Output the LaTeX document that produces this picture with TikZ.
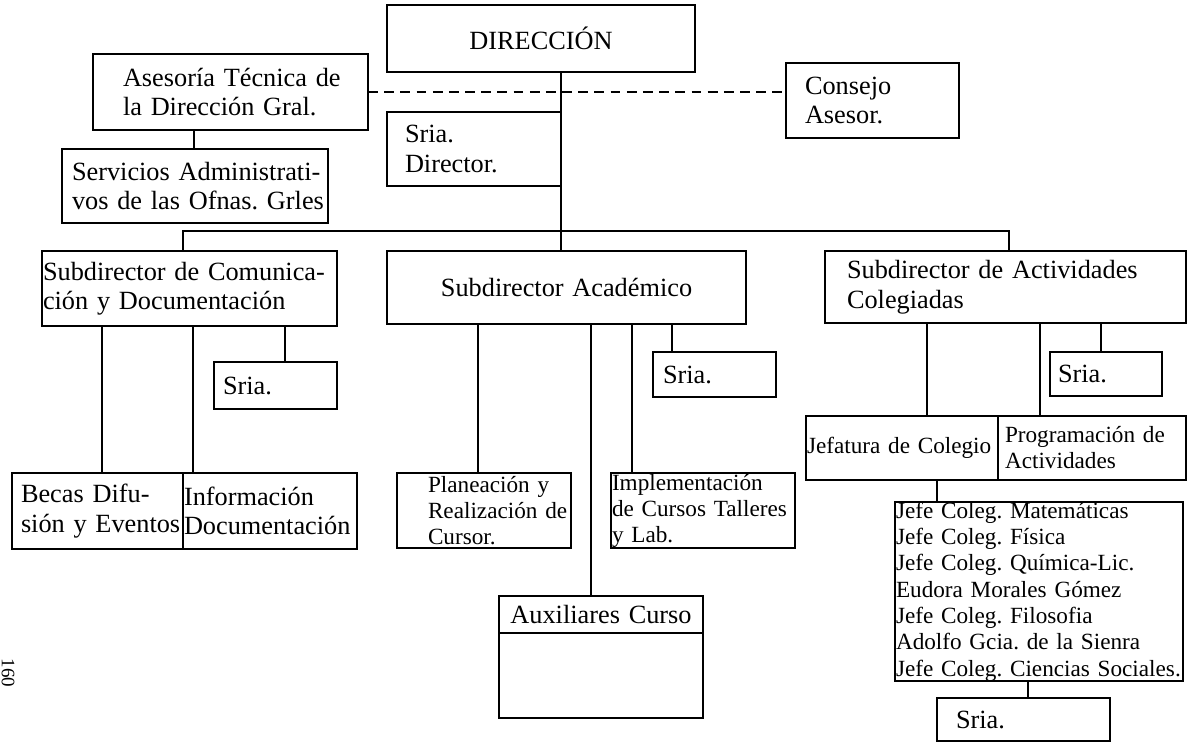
\documentclass[tikz,border=0pt]{standalone}
\usepackage{fontspec}
\setmainfont{Liberation Serif}
\usetikzlibrary{calc}
\hyphenpenalty=10000
\exhyphenpenalty=10000
\newcommand{\mainsz}{\fontsize{18.7}{21}\selectfont}
\newcommand{\smallsz}{\fontsize{16.5}{18.5}\selectfont}
\newcommand{\listsz}{\fontsize{16.5}{18.7}\selectfont}
\tikzset{
  orgbox/.style={draw, line width=1.2pt, outer sep=0pt, inner ysep=0pt,
    anchor=north west, align=left, font=\mainsz},
  link/.style={line width=1.2pt},
  advlink/.style={line width=1pt, dash pattern=on 7pt off 4.5pt},
}
\begin{document}
\begin{tikzpicture}[x=0.025cm, y=-0.025cm]
\useasboundingbox (0,0) rectangle (1193,746);

% Dirección y asesores
\node[orgbox, align=center, inner xsep=0pt, text width=7.7cm, minimum height=1.675cm] (dir) at (387,5) {DIRECCIÓN};
\node[orgbox, inner xsep=0.75cm, text width=5.375cm, minimum height=1.9cm] (ase) at (93,54) {Asesoría~Técnica~de\\la~Dirección~Gral.};
\node[orgbox, inner xsep=0.45cm, text width=3.45cm, minimum height=1.85cm] (sdir) at (387,112) {Sria.\\Director.};
\node[orgbox, inner xsep=0.475cm, text width=3.375cm, minimum height=1.875cm] (con) at (786,63) {Consejo\\Asesor.};
\node[orgbox, inner xsep=0.25cm, text width=6.15cm, minimum height=1.85cm] (ser) at (62,149) {Servicios~Administrati-\\vos~de~las~Ofnas.~Grles};

% Subdirecciones
\node[orgbox, inner xsep=0.025cm, text width=7.325cm, minimum height=1.875cm] (scd) at (42,251) {Subdirector~de~Comunica-\\ción~y~Documentación};
\node[orgbox, align=center, inner xsep=0pt, text width=8.975cm, minimum height=1.825cm] (sca) at (387,251) {Subdirector Académico};
\node[orgbox, inner xsep=0.55cm, text width=7.925cm, minimum height=1.8cm] (sac) at (825,251) {Subdirector~de~Actividades\\Colegiadas};

% Secretarias
\node[orgbox, inner xsep=0.225cm, text width=2.625cm, minimum height=1.175cm] (sria1) at (214,362) {Sria.};
\node[orgbox, inner xsep=0.25cm, text width=2.575cm, minimum height=1.125cm] (sria2) at (653,352) {Sria.};
\node[orgbox, inner xsep=0.2cm, text width=2.4cm, minimum height=1.1cm] (sria3) at (1050,352) {Sria.};

% Comunicación
\node[orgbox, inner xsep=0.225cm, text width=3.825cm, minimum height=1.9cm] (bec) at (12,473) {Becas~Difu-\\sión~y~Eventos};
\node[orgbox, inner xsep=0.025cm, text width=4.3cm, minimum height=1.9cm] (inf) at (183,473) {Información\\Documentación};

% Académico
\node[orgbox, font=\smallsz, inner xsep=0.775cm, text width=2.8cm, minimum height=1.875cm] (pla) at (397,473) {Planeación~y\\Realización~de\\Cursor.};
\node[orgbox, font=\smallsz, inner xsep=0.025cm, text width=4.55cm, minimum height=1.875cm] (imp) at (611,473) {Implementación\\de~Cursos~Talleres\\y~Lab.};
\node[orgbox, align=center, inner xsep=0pt, text width=5.1cm, minimum height=0.925cm] (aux) at (499,596) {Auxiliares Curso};
\node[orgbox, inner xsep=0pt, text width=5.1cm, minimum height=2.125cm] (auxb) at (aux.south west) {};

% Actividades colegiadas
\node[orgbox, font=\smallsz, inner xsep=0.025cm, text width=4.75cm, minimum height=1.6cm] (jef) at (806,416) {Jefatura~de~Colegio};
\node[orgbox, font=\smallsz, inner xsep=0.175cm, text width=4.35cm, minimum height=1.6cm] (pro) at (998,416) {Programación~de\\Actividades};
\node[orgbox, font=\listsz, inner xsep=0.025cm, text width=7.15cm, minimum height=4.45cm] (lst) at (895,502) {Jefe~Coleg.~Matemáticas\\Jefe~Coleg.~Física\\Jefe~Coleg.~Química-Lic.\\Eudora~Morales~Gómez\\Jefe~Coleg.~Filosofia\\Adolfo~Gcia.~de~la~Sienra\\Jefe~Coleg.~Ciencias~Sociales.};
\node[orgbox, inner xsep=0.475cm, text width=3.375cm, minimum height=1.075cm] (sria4) at (937,698) {Sria.};

% número de página
\node[rotate=-90, font=\fontsize{13.5}{14}\selectfont, inner sep=0pt] (pg) at (8,673) {160};

% líneas de mando
\draw[link] (dir.south -| sdir.east) -- (sca.north -| sdir.east);
\draw[advlink] (ase.east) -- (ase.east -| con.west);
\draw[link] ([xshift=3.3cm]ser.north west) -- ([xshift=3.3cm]ser.north west |- ase.south);
\coordinate (busl) at (183,231);
\coordinate (busr) at (1009,231);
\draw[link] (scd.north -| busl) -- (busl) -- (busr) -- (sac.north -| busr);

\draw[link] ([xshift=2.25cm]bec.north west) -- ([xshift=2.25cm]bec.north west |- scd.south);
\draw[link] ([xshift=0.25cm]inf.north west) -- ([xshift=0.25cm]inf.north west |- scd.south);
\draw[link] ([xshift=1.775cm]sria1.north west) -- ([xshift=1.775cm]sria1.north west |- scd.south);

\draw[link] ([xshift=2.025cm]pla.north west) -- ([xshift=2.025cm]pla.north west |- sca.south);
\draw[link] ([xshift=2.3cm]aux.north west) -- ([xshift=2.3cm]aux.north west |- sca.south);
\draw[link] ([xshift=0.525cm]imp.north west) -- ([xshift=0.525cm]imp.north west |- sca.south);
\draw[link] ([xshift=0.475cm]sria2.north west) -- ([xshift=0.475cm]sria2.north west |- sca.south);

\draw[link] ([xshift=3.025cm]jef.north west) -- ([xshift=3.025cm]jef.north west |- sac.south);
\draw[link] ([xshift=1.05cm]pro.north west) -- ([xshift=1.05cm]pro.north west |- sac.south);
\draw[link] ([xshift=1.275cm]sria3.north west) -- ([xshift=1.275cm]sria3.north west |- sac.south);
\draw[link] ([xshift=1.05cm]lst.north west) -- ([xshift=1.05cm]lst.north west |- jef.south);
\draw[link] ([xshift=2.275cm]sria4.north west) -- ([xshift=2.275cm]sria4.north west |- lst.south);
\end{tikzpicture}
\end{document}
